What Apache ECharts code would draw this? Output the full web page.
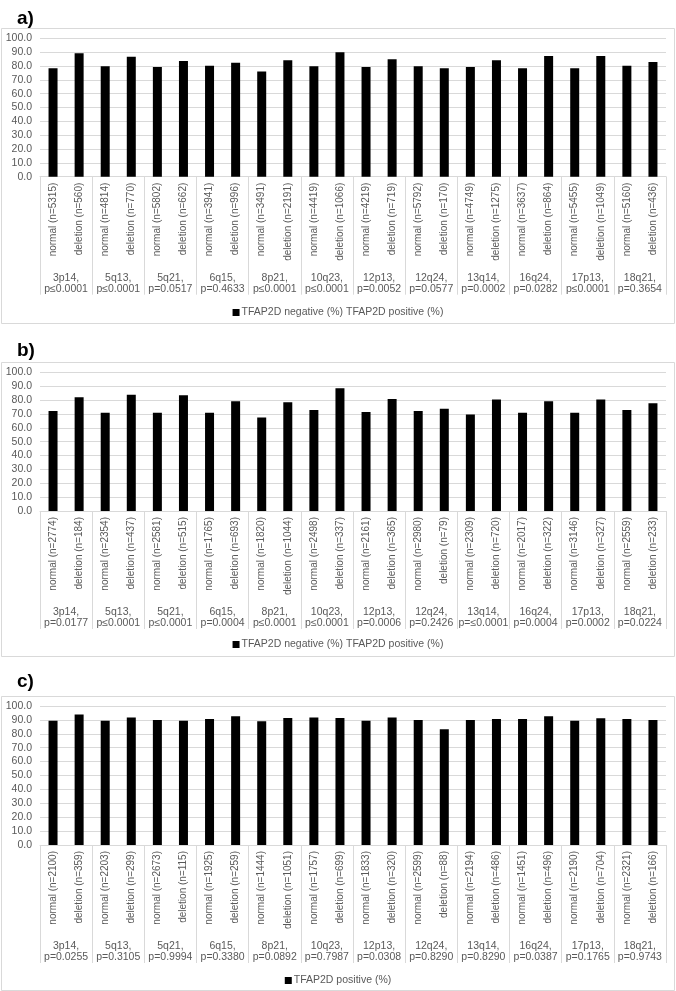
<!DOCTYPE html>
<html>
<head>
<meta charset="utf-8">
<script src="https://cdn.jsdelivr.net/npm/echarts@6/dist/echarts.min.js"></script>
<style>
html,body{margin:0;padding:0;background:#fff;}
#c{width:676px;height:991px;}
</style>
</head>
<body>
<div id="c"></div>
<script>
// ---- data ----
const groups = ['3p14','5q13','5q21','6q15','8p21','10q23','12p13','12q24','13q14','16q24','17p13','18q21'];
const yTicks = [0,10,20,30,40,50,60,70,80,90,100];

const pA = ['p≤0.0001','p≤0.0001','p=0.0517','p=0.4633','p≤0.0001','p≤0.0001','p=0.0052','p=0.0577','p=0.0002','p=0.0282','p≤0.0001','p=0.3654'];
const nA = [5315,560,4814,770,5802,662,3941,996,3491,2191,4419,1066,4219,719,5792,170,4749,1275,3637,864,5455,1049,5160,436];
const valA = [78.3,89.2,79.8,86.7,79.3,83.6,80.2,82.4,76.1,84.1,79.8,89.9,79.3,84.8,79.8,78.3,79.3,84.1,78.3,87.2,78.3,87.2,80.2,82.9];
const nameA = 'TFAP2D negative (%) TFAP2D positive (%)';

const pB = ['p=0.0177','p≤0.0001','p≤0.0001','p=0.0004','p≤0.0001','p≤0.0001','p=0.0006','p=0.2426','p=≤0.0001','p=0.0004','p=0.0002','p=0.0224'];
const nB = [2774,184,2354,437,2581,515,1765,693,1820,1044,2498,337,2161,365,2980,79,2309,720,2017,322,3146,327,2559,233];
const valB = [72.1,82.0,70.9,83.9,70.9,83.4,70.9,79.1,67.5,78.4,72.8,88.5,71.4,80.8,72.1,73.8,69.5,80.3,70.9,79.1,70.9,80.3,72.8,77.6];
const nameB = 'TFAP2D negative (%) TFAP2D positive (%)';

const pC = ['p=0.0255','p=0.3105','p=0.9994','p=0.3380','p=0.0892','p=0.7987','p=0.0308','p=0.8290','p=0.8290','p=0.0387','p=0.1765','p=0.9743'];
const nC = [2100,359,2203,299,2673,115,1925,259,1444,1051,1757,699,1833,320,2599,88,2194,486,1451,496,2190,704,2321,166];
const valC = [89.4,93.8,89.4,91.8,89.9,89.4,90.6,92.6,89.0,91.4,91.8,91.4,89.4,91.8,89.9,83.2,89.9,90.6,90.6,92.6,89.4,91.1,90.6,89.9];
const nameC = 'TFAP2D positive (%)';

const panels = [
  {label:'a)', p:pA, n:nA, v:valA, name:nameA},
  {label:'b)', p:pB, n:nB, v:valB, name:nameB},
  {label:'c)', p:pC, n:nC, v:valC, name:nameC}
];

// ---- layout (styles only) ----
const FONT = 'Liberation Sans, Arial, sans-serif';
const TXT = '#595959';
const GRID = '#d9d9d9';
const layout = [
  {boxTop:28, boxBot:323, gridTop:38.3, gridH:138.4, titleTop:4, legendTop:302},
  {boxTop:362, boxBot:656, gridTop:372.3, gridH:138.7, titleTop:336, legendTop:634},
  {boxTop:696, boxBot:990, gridTop:706, gridH:139, titleTop:667, legendTop:970}
];

const chart = echarts.init(document.getElementById('c'), null, {renderer:'canvas'});

const option = {
  backgroundColor:'#fff',
  animation:false,
  textStyle:{fontFamily:FONT},
  title:[], grid:[], xAxis:[], yAxis:[], series:[], legend:[],
  graphic:[]
};

panels.forEach((pn, i) => {
  const L = layout[i];
  const cats = [];
  groups.forEach((g, k) => {
    cats.push('normal (n=' + pn.n[2*k] + ')');
    cats.push('deletion (n=' + pn.n[2*k+1] + ')');
  });
  const grpLabels = groups.map((g, k) => g + ',\n' + pn.p[k]);

  option.graphic.push({
    type:'rect', silent:true, z:-1,
    shape:{x:1.5, y:L.boxTop+0.5, width:673, height:L.boxBot-L.boxTop},
    style:{fill:'none', stroke:GRID, lineWidth:1}
  });

  option.title.push({
    text:pn.label, left:12, top:L.titleTop,
    textStyle:{fontSize:19, fontWeight:'bold', color:'#000', fontFamily:FONT}
  });

  option.grid.push({left:40, right:10, top:L.gridTop, height:L.gridH, containLabel:false});

  option.xAxis.push({
    type:'category', gridIndex:i, data:cats, position:'bottom',
    axisLine:{show:false}, axisTick:{show:false},
    axisLabel:{interval:0, rotate:90, margin:6, fontSize:10, color:TXT, fontFamily:FONT}
  });
  option.xAxis.push({
    type:'category', gridIndex:i, data:grpLabels, position:'bottom',
    axisLine:{show:true, lineStyle:{color:GRID, width:1}},
    axisTick:{show:true, interval:0, length:118, lineStyle:{color:GRID, width:1}},
    axisLabel:{interval:0, margin:96, fontSize:10.5, lineHeight:11, color:TXT, fontFamily:FONT, align:'center'}
  });

  option.yAxis.push({
    type:'value', gridIndex:i, min:yTicks[0], max:yTicks[yTicks.length-1], interval:yTicks[1]-yTicks[0],
    axisLine:{show:false}, axisTick:{show:false},
    splitLine:{show:true, lineStyle:{color:GRID, width:1}},
    axisLabel:{formatter:v => v.toFixed(1), fontSize:10.5, color:TXT, margin:8, fontFamily:FONT}
  });

  option.series.push({
    type:'bar', name:pn.name, xAxisIndex:2*i, yAxisIndex:i,
    data:pn.v, barWidth:9,
    itemStyle:{color:'#000'}
  });

  option.legend.push({
    data:[pn.name], left:'center', top:L.legendTop,
    icon:'rect', itemWidth:7, itemHeight:7, itemGap:4,
    selectedMode:false,
    textStyle:{fontSize:10.5, color:TXT, fontFamily:FONT, padding:[0,0,0,-3]}
  });
});

chart.setOption(option);
</script>
</body>
</html>
